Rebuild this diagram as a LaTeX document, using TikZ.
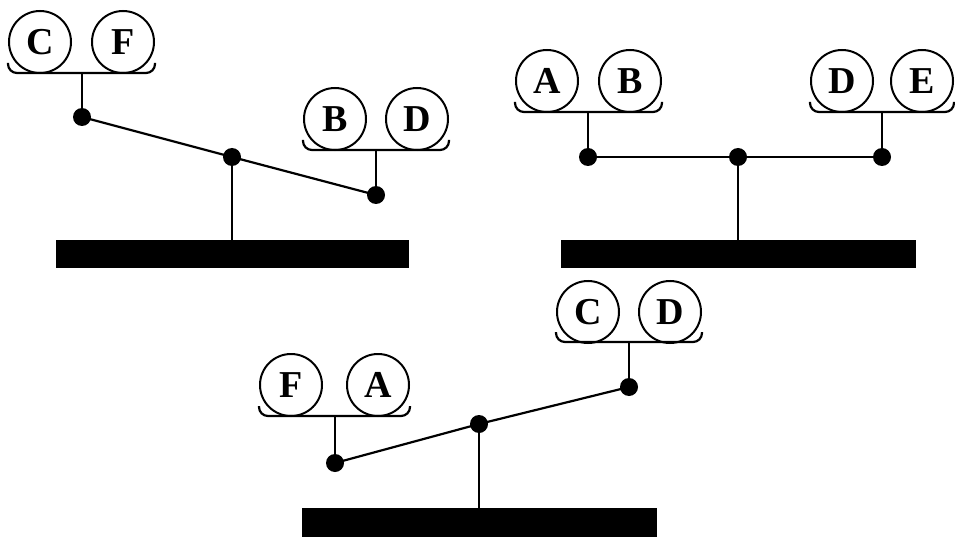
\documentclass[tikz,border=0pt]{standalone}
\usepackage{fontspec}
\setmainfont{Liberation Serif}
\usepackage{tikz}
\usetikzlibrary{calc}

\tikzset{
  ball/.style={circle,draw,line width=2pt,fill=white,minimum size=62pt,inner sep=0pt,
    font=\fontsize{38}{38}\selectfont\bfseries},
  pivot/.style={circle,fill=black,minimum size=18pt,inner sep=0pt},
  stand/.style={rectangle,fill=black,inner sep=0pt},
  pan/.style={line width=2.2pt,rounded corners=9pt},
  beam/.style={line width=2.2pt}
}

\begin{document}
\begin{tikzpicture}[x=1pt,y=1pt]
        \useasboundingbox (0,0) rectangle (955,539);
        % left scale
        \node[stand,minimum width=353pt,minimum height=28pt] (base1) at (232,285) {};
        \node[pivot] (l1) at (82,422) {};
        \node[pivot] (m1) at (232,382) {};
        \node[pivot] (r1) at (376,344) {};
        \coordinate (p1) at (82,466);
        \coordinate (q1) at (376,389);
        \draw[beam] (l1.center) -- (m1.center) -- (r1.center);
        \draw[beam] (m1.center) -- (base1.north);
        \draw[beam] (p1) -- (l1.center);
        \draw[beam] (q1) -- (r1.center);
        \node[ball] (c1) at (40,497) {C};
        \node[ball] (f1) at (123,497) {F};
        \node[ball] (b1) at (335,420) {B};
        \node[ball] (d1) at (417,420) {D};
        \draw[pan] ($(c1.west |- p1)+(0,10)$) -- (c1.west |- p1) -- (f1.east |- p1) -- ($(f1.east |- p1)+(0,10)$);
        \draw[pan] ($(b1.west |- q1)+(0,10)$) -- (b1.west |- q1) -- (d1.east |- q1) -- ($(d1.east |- q1)+(0,10)$);

        % right scale
        \node[stand,minimum width=355pt,minimum height=28pt] (base2) at (738,285) {};
        \node[pivot] (l2) at (588,382) {};
        \node[pivot] (m2) at (738,382) {};
        \node[pivot] (r2) at (882,382) {};
        \coordinate (p2) at (588,427);
        \coordinate (q2) at (882,427);
        \draw[beam] (l2.center) -- (m2.center) -- (r2.center);
        \draw[beam] (m2.center) -- (base2.north);
        \draw[beam] (p2) -- (l2.center);
        \draw[beam] (q2) -- (r2.center);
        \node[ball] (a2) at (547,458) {A};
        \node[ball] (b2) at (630,458) {B};
        \node[ball] (d2) at (842,458) {D};
        \node[ball] (e2) at (922,458) {E};
        \draw[pan] ($(a2.west |- p2)+(0,10)$) -- (a2.west |- p2) -- (b2.east |- p2) -- ($(b2.east |- p2)+(0,10)$);
        \draw[pan] ($(d2.west |- q2)+(0,10)$) -- (d2.west |- q2) -- (e2.east |- q2) -- ($(e2.east |- q2)+(0,10)$);

        % bottom scale
        \node[stand,minimum width=355pt,minimum height=29pt] (base3) at (479,16.5) {};
        \node[pivot] (l3) at (335,76) {};
        \node[pivot] (m3) at (479,115) {};
        \node[pivot] (r3) at (629,152) {};
        \coordinate (p3) at (335,123);
        \coordinate (q3) at (629,197);
        \draw[beam] (l3.center) -- (m3.center) -- (r3.center);
        \draw[beam] (m3.center) -- (base3.north);
        \draw[beam] (p3) -- (l3.center);
        \draw[beam] (q3) -- (r3.center);
        \node[ball] (f3) at (291,154) {F};
        \node[ball] (a3) at (378,154) {A};
        \node[ball] (c3) at (588,227) {C};
        \node[ball] (d3) at (670,227) {D};
        \draw[pan] ($(f3.west |- p3)+(0,10)$) -- (f3.west |- p3) -- (a3.east |- p3) -- ($(a3.east |- p3)+(0,10)$);
        \draw[pan] ($(c3.west |- q3)+(0,10)$) -- (c3.west |- q3) -- (d3.east |- q3) -- ($(d3.east |- q3)+(0,10)$);
    \end{tikzpicture}
\end{document}
